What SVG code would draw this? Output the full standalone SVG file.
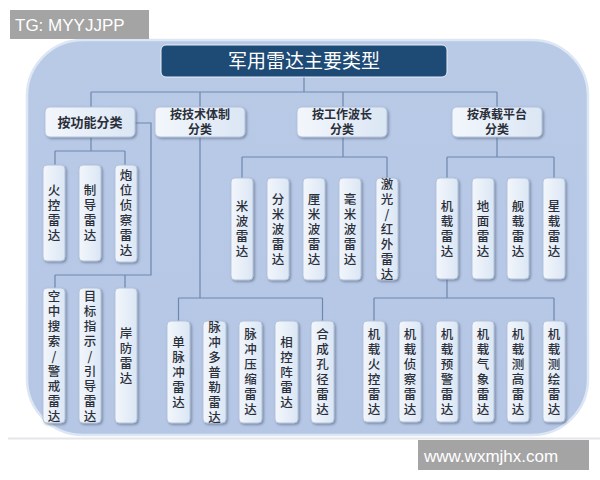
<svg xmlns="http://www.w3.org/2000/svg" width="600" height="480" viewBox="0 0 600 480">
<defs>
<linearGradient id="boxg" x1="0" y1="0" x2="1" y2="0">
<stop offset="0" stop-color="#f3f7fc"/>
<stop offset="1" stop-color="#dbe6f4"/>
</linearGradient>
<linearGradient id="panelg" x1="0" y1="0" x2="0" y2="1">
<stop offset="0" stop-color="#b9cae7"/>
<stop offset="1" stop-color="#b6c7e6"/>
</linearGradient>
<filter id="sh" x="-30%" y="-10%" width="160%" height="130%">
<feDropShadow dx="1.5" dy="1.5" stdDeviation="1.2" flood-color="#55657e" flood-opacity="0.6"/>
</filter>
</defs>
<style>
.box{fill:url(#boxg);stroke:#b3c3dc;stroke-width:1;filter:url(#sh)}
.lbl{font-family:"Liberation Sans","Noto Sans CJK SC",sans-serif;font-size:12px;font-weight:bold;fill:#2a2f3a;text-anchor:middle}
.lbl1{font-family:"Noto Sans CJK SC","Noto Sans",sans-serif;font-size:13px;font-weight:bold;fill:#2a2f3a;text-anchor:middle}
.v{font-family:"Noto Sans CJK SC","Noto Sans",sans-serif;font-size:12.5px;font-weight:500;fill:#2a2f3a;text-anchor:middle;writing-mode:vertical-rl;text-orientation:upright;letter-spacing:2.5px}
.conn{fill:none;stroke:#6d87ad;stroke-width:1.2}
.wm{font-family:"Liberation Sans",Arial,sans-serif;font-size:17px;fill:#ffffff}
</style>
<rect x="0" y="0" width="600" height="480" fill="#ffffff"/>
<line x1="8" y1="438.5" x2="600" y2="438.5" stroke="#e4e6ea" stroke-width="2"/>
<rect x="27" y="40" width="561" height="395" rx="56" ry="56" fill="url(#panelg)" stroke="#dde7f4" stroke-width="2.5"/>

<g id="connectors" class="conn">
<path d="M304 77V92M91 92H497M91 92V107M200 92V107M343 92V107M497 92V107"/>
<path d="M91 137V151M55 151H125M55 151V165M125 151V165"/>
<path d="M135 123H151V275H55M55 275V288M125 275V288"/>
<path d="M200 137V298M178.5 298H322.5M178.5 298V321M322.5 298V321"/>
<path d="M343 137V157M242 157H387M242 157V178M387 157V178"/>
<path d="M497 137V157M447 157H554M447 157V178M554 157V178"/>
<path d="M447 279V298M374 298H554M374 298V321M554 298V321"/>
</g>

<g id="title">
<rect x="161" y="45" width="286" height="32" rx="5" fill="#1e4a76" stroke="#e7eef8" stroke-width="1"/>
<text x="304" y="68" text-anchor="middle" font-family="Noto Sans CJK SC, Noto Sans, sans-serif" font-size="19" fill="#ffffff">军用雷达主要类型</text>
</g>

<g id="n-func"><rect class="box" x="45" y="107" width="90" height="30" rx="5"/><text class="lbl1" x="90" y="127">按功能分类</text></g>
<g id="n-tech"><rect class="box" x="155" y="107" width="90" height="30" rx="5"/><text class="lbl" x="200" y="119">按技术体制</text><text class="lbl" x="200" y="133.5">分类</text></g>
<g id="n-wave"><rect class="box" x="297" y="107" width="90" height="30" rx="5"/><text class="lbl" x="342" y="119">按工作波长</text><text class="lbl" x="342" y="133.5">分类</text></g>
<g id="n-plat"><rect class="box" x="452" y="107" width="90" height="30" rx="5"/><text class="lbl" x="497" y="119">按承载平台</text><text class="lbl" x="497" y="133.5">分类</text></g>

<g id="n-fire"><rect class="box" x="43" y="165" width="22" height="96" rx="4"/><text class="v" x="54" y="214">火控雷达</text></g>
<g id="n-guide"><rect class="box" x="79" y="165" width="22" height="96" rx="4"/><text class="v" x="90" y="214">制导雷达</text></g>
<g id="n-artillery"><rect class="box" x="115" y="165" width="22" height="97" rx="4"/><text class="v" x="126" y="214">炮位侦察雷达</text></g>

<g id="n-air"><rect class="box" x="43" y="288" width="22" height="135" rx="4"/><text class="v" x="54" y="357">空中搜索/警戒雷达</text></g>
<g id="n-target"><rect class="box" x="79" y="288" width="22" height="135" rx="4"/><text class="v" x="90" y="357">目标指示/引导雷达</text></g>
<g id="n-coast"><rect class="box" x="115" y="288" width="22" height="135" rx="4"/><text class="v" x="126" y="357">岸防雷达</text></g>

<g id="n-mono"><rect class="box" x="167" y="321" width="23" height="102" rx="4"/><text class="v" x="178.5" y="373">单脉冲雷达</text></g>
<g id="n-pd"><rect class="box" x="203" y="321" width="23" height="102" rx="4"/><text class="v" x="214.5" y="373">脉冲多普勒雷达</text></g>
<g id="n-pc"><rect class="box" x="239" y="321" width="23" height="102" rx="4"/><text class="v" x="250.5" y="373">脉冲压缩雷达</text></g>
<g id="n-pa"><rect class="box" x="275" y="321" width="23" height="102" rx="4"/><text class="v" x="286.5" y="373">相控阵雷达</text></g>
<g id="n-sar"><rect class="box" x="311" y="321" width="23" height="102" rx="4"/><text class="v" x="322.5" y="373">合成孔径雷达</text></g>

<g id="n-m"><rect class="box" x="231" y="178" width="22" height="102" rx="4"/><text class="v" x="242" y="230">米波雷达</text></g>
<g id="n-dm"><rect class="box" x="267" y="178" width="22" height="102" rx="4"/><text class="v" x="278" y="230">分米波雷达</text></g>
<g id="n-cm"><rect class="box" x="303" y="178" width="22" height="102" rx="4"/><text class="v" x="314" y="230">厘米波雷达</text></g>
<g id="n-mm"><rect class="box" x="339" y="178" width="22" height="102" rx="4"/><text class="v" x="350" y="230">毫米波雷达</text></g>
<g id="n-laser"><rect class="box" x="376" y="178" width="22" height="102" rx="4"/><text class="v" x="387" y="230">激光/红外雷达</text></g>

<g id="n-airborne"><rect class="box" x="436" y="178" width="22" height="101" rx="4"/><text class="v" x="447" y="230">机载雷达</text></g>
<g id="n-ground"><rect class="box" x="472" y="178" width="22" height="101" rx="4"/><text class="v" x="483" y="230">地面雷达</text></g>
<g id="n-ship"><rect class="box" x="507" y="178" width="22" height="101" rx="4"/><text class="v" x="518" y="230">舰载雷达</text></g>
<g id="n-sat"><rect class="box" x="543" y="178" width="22" height="101" rx="4"/><text class="v" x="554" y="230">星载雷达</text></g>

<g id="n-ab-fire"><rect class="box" x="363" y="321" width="22" height="101" rx="4"/><text class="v" x="374" y="372.5">机载火控雷达</text></g>
<g id="n-ab-recon"><rect class="box" x="399" y="321" width="22" height="101" rx="4"/><text class="v" x="410" y="372.5">机载侦察雷达</text></g>
<g id="n-ab-aew"><rect class="box" x="436" y="321" width="22" height="101" rx="4"/><text class="v" x="447" y="372.5">机载预警雷达</text></g>
<g id="n-ab-wx"><rect class="box" x="472" y="321" width="22" height="101" rx="4"/><text class="v" x="483" y="372.5">机载气象雷达</text></g>
<g id="n-ab-alt"><rect class="box" x="507" y="321" width="22" height="101" rx="4"/><text class="v" x="518" y="372.5">机载测高雷达</text></g>
<g id="n-ab-map"><rect class="box" x="543" y="321" width="22" height="101" rx="4"/><text class="v" x="554" y="372.5">机载测绘雷达</text></g>

<g id="wm-tg"><rect x="10" y="10" width="139" height="29" fill="#a4a4a4"/><text class="wm" x="15" y="31">TG: MYYJJPP</text></g>
<g id="wm-url"><rect x="418" y="440" width="171" height="30" fill="#a4a4a4"/><text class="wm" x="424" y="462">www.wxmjhx.com</text></g>
</svg>
